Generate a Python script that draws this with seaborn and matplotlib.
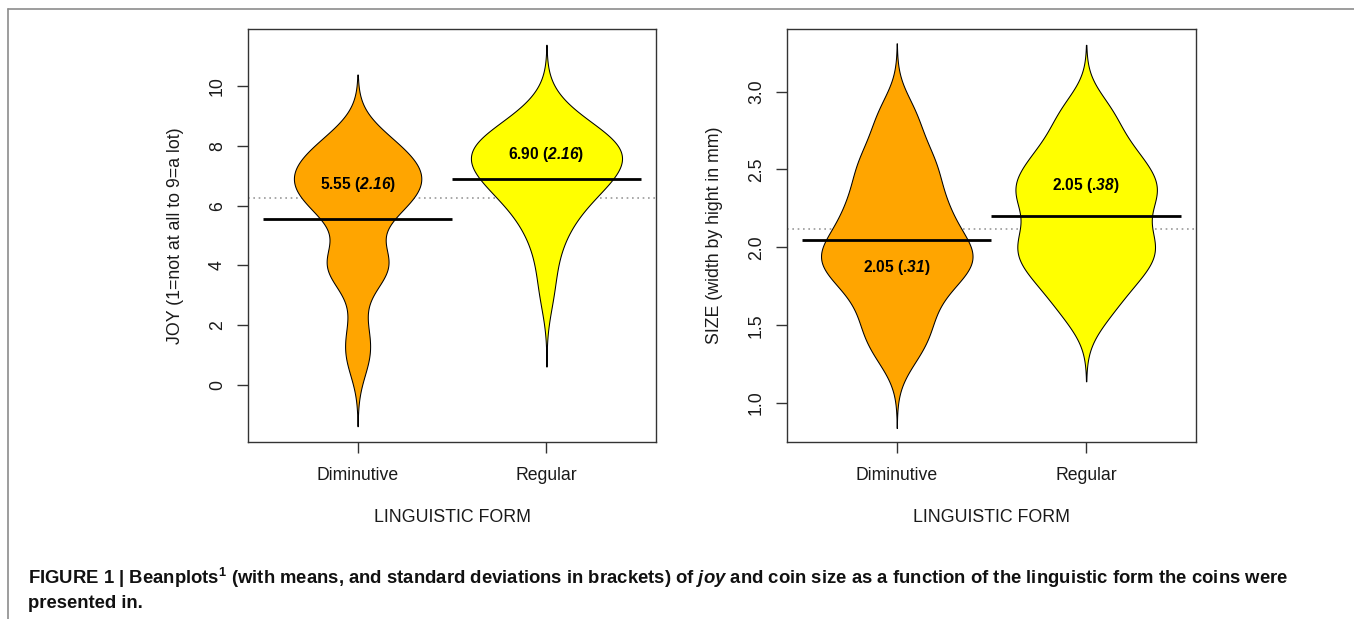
import numpy as np
import pandas as pd
import matplotlib
matplotlib.use("Agg")
import matplotlib.pyplot as plt
from matplotlib.lines import Line2D
import seaborn as sns

# ------------------------------------------------------------------
# data
# ------------------------------------------------------------------
forms = ["Diminutive", "Regular"]
bean_colors = ["#FFA500", "#FFFF00"]

# JOY ratings: rating value -> number of participants
joy_dim_values = [1, 2, 4, 6, 7, 8]
joy_dim_counts = [2, 1, 6, 6, 8, 5]
joy_reg_values = [3, 4, 5, 6, 7, 8, 9]
joy_reg_counts = [1, 1, 2, 4, 8, 10, 3]
joy_means = [5.55, 6.90]
joy_overall = 6.25
joy_labels = [r"5.55 ($\mathsf{2.16}$)", r"6.90 ($\mathsf{2.16}$)"]
joy_bw = 0.8

# SIZE estimates (mm): value -> number of participants
size_dim_values = [1.29, 1.34, 1.39, 1.44, 1.50, 1.55, 1.60, 1.65, 1.70, 1.75,
                   1.80, 1.85, 1.90, 1.95, 2.00, 2.05, 2.10, 2.15, 2.20, 2.25,
                   2.30, 2.35, 2.40, 2.45, 2.50, 2.55, 2.60, 2.65, 2.81, 2.86]
size_dim_counts = [1, 1, 1, 1, 1, 1, 1, 1, 1, 1,
                   2, 2, 3, 3, 2, 2, 1, 1, 2, 2,
                   1, 1, 1, 1, 1, 2, 1, 1, 1, 2]
size_reg_values = [1.59, 1.74, 1.79, 1.84, 1.89, 1.94, 1.99, 2.04, 2.09, 2.14,
                   2.24, 2.29, 2.35, 2.40, 2.45, 2.55, 2.60, 2.85]
size_reg_counts = [3, 1, 2, 2, 1, 2, 2, 3, 2, 1,
                   1, 2, 4, 3, 1, 1, 5, 4]
size_means = [2.05, 2.20]
size_overall = 2.12
size_labels = [r"2.05 (.$\mathsf{31}$)", r"2.05 (.$\mathsf{38}$)"]
size_bw = 0.15

caption_1 = (r"FIGURE 1 | Beanplots$^{1}$ (with means, and standard deviations in brackets) "
             r"of $\mathsf{joy}$ and coin size as a function of the linguistic form the coins were")
caption_2 = "presented in."

# label heights inside the beans (data units)
joy_label_y = [6.72, 7.72]
size_label_y = [1.87, 2.40]


def long_table(name, dim_values, dim_counts, reg_values, reg_counts):
    vals = np.concatenate([np.repeat(dim_values, dim_counts),
                           np.repeat(reg_values, reg_counts)])
    grp = np.repeat(forms, [sum(dim_counts), sum(reg_counts)])
    return pd.DataFrame({"form": grp, name: vals})


def fixed_bw(width):
    # absolute kernel sd, like R's density(bw=...)
    return lambda kde: width / np.std(kde.dataset, ddof=1)


joy_df = long_table("joy", joy_dim_values, joy_dim_counts, joy_reg_values, joy_reg_counts)
size_df = long_table("size", size_dim_values, size_dim_counts, size_reg_values, size_reg_counts)

# ------------------------------------------------------------------
# style
# ------------------------------------------------------------------
sns.set_style("ticks")
plt.rcParams["font.family"] = ["Liberation Sans", "DejaVu Sans"]
plt.rcParams["mathtext.fontset"] = "custom"
plt.rcParams["mathtext.rm"] = "Liberation Sans:bold"
plt.rcParams["mathtext.bf"] = "Liberation Sans:bold"
plt.rcParams["mathtext.sf"] = "Liberation Sans:italic:bold"
plt.rcParams["mathtext.it"] = "Liberation Sans:italic:bold"

fig = plt.figure(figsize=(13.54, 6.19), dpi=100)
ax_joy = fig.add_axes([0.1832, 0.2859, 0.3013, 0.6668])
ax_size = fig.add_axes([0.5812, 0.2859, 0.3021, 0.6668])

panels = [
    (ax_joy, joy_df, "joy", joy_bw, joy_means, joy_overall, joy_labels, joy_label_y,
     "JOY (1=not at all to 9=a lot)", (-1.93, 11.92), [0, 2, 4, 6, 8, 10], ["0", "2", "4", "6", "8", "10"]),
    (ax_size, size_df, "size", size_bw, size_means, size_overall, size_labels, size_label_y,
     "SIZE (width by hight in mm)", (0.75, 3.40), [1.0, 1.5, 2.0, 2.5, 3.0], ["1.0", "1.5", "2.0", "2.5", "3.0"]),
]

for ax, df, col, bw, means, overall, labels, label_y, ylabel, ylim, yt, ytl in panels:
    pos = np.arange(len(forms))
    ax.axhline(overall, color="#9a9a9a", lw=1.2, ls=(0, (1, 2.2)), zorder=0)
    sns.violinplot(data=df, x="form", y=col, hue="form", order=forms, hue_order=forms,
                   palette=bean_colors, saturation=1, inner=None, cut=3, gridsize=300,
                   bw_method=fixed_bw(bw), density_norm="area", common_norm=True,
                   width=0.8, linecolor="black", linewidth=0.75, legend=False, ax=ax)
    ax.hlines(means, pos - 0.5, pos + 0.5, colors="black", lw=2.0, zorder=4)
    for p, y, txt in zip(pos, label_y, labels):
        ax.text(p, y, txt, ha="center", va="center", fontsize=11.2, fontweight="bold",
                color="black", zorder=5)

    ax.set_xlim(-0.58, 1.58)
    ax.set_ylim(*ylim)
    ax.set_yticks(yt)
    ax.set_yticklabels(ytl)
    ax.set_xticks(pos)
    ax.set_xticklabels(forms)
    for s in ax.spines.values():
        s.set_visible(True)
        s.set_color("#333333")
        s.set_linewidth(1.0)
    ax.tick_params(axis="both", length=8, width=1, color="#333333", labelsize=12.7,
                   labelcolor="#1a1a1a", direction="out", top=False, right=False)
    ax.tick_params(axis="x", pad=16)
    ax.tick_params(axis="y", pad=14)
    for lbl in ax.get_yticklabels():
        lbl.set_rotation(90)
        lbl.set_ha("center")
        lbl.set_va("center")
    for lbl in ax.get_xticklabels():
        lbl.set_va("center")

    ax.set_xlabel("LINGUISTIC FORM", fontsize=12.8, color="#1a1a1a")
    ax.xaxis.label.set_va("center")
    ax.xaxis.set_label_coords(0.5, -0.184)
    ax.set_ylabel(ylabel, fontsize=12.8, color="#1a1a1a")
    ax.yaxis.label.set_va("center")
    ax.yaxis.set_label_coords(-0.178, 0.5)
    ax.grid(False)

# caption
fig.text(28 / 1354, 1 - 583.5 / 619, caption_1, fontsize=13.3, fontweight="bold",
         ha="left", va="baseline", color="#111111")
fig.text(28 / 1354, 1 - 608 / 619, caption_2, fontsize=13.3, fontweight="bold",
         ha="left", va="baseline", color="#111111")

# panel frame (left and top rules)
fig.add_artist(Line2D([8 / 1354, 8 / 1354], [0, 1 - 8.5 / 619], transform=fig.transFigure,
                      color="#8c8c8c", lw=1.2))
fig.add_artist(Line2D([8 / 1354, 1], [1 - 8.5 / 619, 1 - 8.5 / 619], transform=fig.transFigure,
                      color="#8c8c8c", lw=1.2))

fig.savefig("out.png", dpi=100, facecolor="white")
